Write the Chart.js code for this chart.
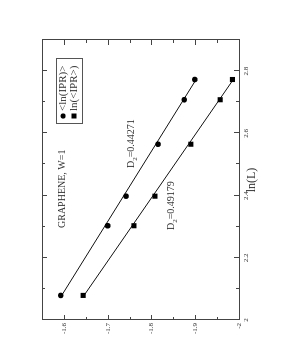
<!DOCTYPE html>
<html>
<head>
<meta charset="utf-8">
<script src="https://cdn.jsdelivr.net/npm/chart.js@4"></script>
<style>
  html, body { margin: 0; padding: 0; background: #fff; }
  #wrap {
    position: absolute; left: 0; top: 0;
    width: 363px; height: 281px;
    transform-origin: 0 0;
    transform: translate(0, 363px) rotate(-90deg);
  }
</style>
</head>
<body>
<div id="wrap"><canvas id="chart" width="363" height="281"></canvas></div>
<script>
// ln(L) values (system sizes)
const lnL = [2.079, 2.303, 2.398, 2.565, 2.708, 2.773];
// <ln(IPR)>  (circles)
const meanLnIPR = [-1.593, -1.700, -1.742, -1.815, -1.875, -1.899];
// ln(<IPR>)  (squares)
const lnMeanIPR = [-1.644, -1.760, -1.808, -1.890, -1.957, -1.985];
// fitted lines, value at first and last ln(L)
const fitX = [2.079, 2.773];
const fitCircle = [-1.595, -1.902];
const fitSquare = [-1.646, -1.987];

const seriesLabels = ['<ln(IPR)>', 'ln(<IPR>)'];
const xTicks = [2, 2.2, 2.4, 2.6, 2.8];
const xMinor = [2.1, 2.3, 2.5, 2.7];
const yTicks = [-2, -1.9, -1.8, -1.7, -1.6];
const yMinor = [-1.95, -1.85, -1.75, -1.65];

const serif = "'Liberation Serif', 'DejaVu Serif', serif";
const ink = '#333';

function pts(xs, ys) { return xs.map((v, i) => ({x: v, y: ys[i]})); }

// frame, inward ticks, legend and text notes
const decor = {
  id: 'decor',
  afterDraw(chart) {
    const {ctx, chartArea: a} = chart;
    const x = chart.scales.x, y = chart.scales.y;
    ctx.save();
    ctx.strokeStyle = '#444';
    ctx.lineWidth = 1;
    ctx.strokeRect(a.left + 0.5, a.top + 0.5, a.right - a.left, a.bottom - a.top);

    ctx.beginPath();
    const tickX = (v, len) => {
      const px = Math.round(x.getPixelForValue(v)) + 0.5;
      ctx.moveTo(px, a.bottom); ctx.lineTo(px, a.bottom - len);
      ctx.moveTo(px, a.top); ctx.lineTo(px, a.top + len);
    };
    const tickY = (v, len) => {
      const py = Math.round(y.getPixelForValue(v)) + 0.5;
      ctx.moveTo(a.left, py); ctx.lineTo(a.left + len, py);
      ctx.moveTo(a.right, py); ctx.lineTo(a.right - len, py);
    };
    xTicks.forEach(v => tickX(v, 5));
    xMinor.forEach(v => tickX(v, 3));
    yTicks.forEach(v => tickY(v, 5));
    yMinor.forEach(v => tickY(v, 3));
    ctx.stroke();

    // legend
    ctx.strokeStyle = '#555';
    ctx.strokeRect(239.5, 56.5, 65, 26);
    ctx.fillStyle = '#000';
    ctx.beginPath(); ctx.arc(247, 63, 2.6, 0, Math.PI * 2); ctx.fill();
    ctx.fillRect(244.5, 71.5, 5, 5);
    ctx.fillStyle = ink;
    ctx.font = '11px ' + serif;
    ctx.textBaseline = 'middle';
    ctx.fillText(chart.data.datasets[0].label, 252, 63.5);
    ctx.fillText(chart.data.datasets[1].label, 252, 74.5);

    // notes
    ctx.textBaseline = 'alphabetic';
    ctx.font = '10px ' + serif;
    ctx.fillText('GRAPHENE, W=1', 135, 65);
    const dLabel = (x0, base, val) => {
      ctx.font = '10px ' + serif;
      ctx.fillText('D', x0, base);
      let w = ctx.measureText('D').width;
      ctx.font = '7px ' + serif;
      ctx.fillText('2', x0 + w, base + 3);
      w += ctx.measureText('2').width;
      ctx.font = '10px ' + serif;
      ctx.fillText('=' + val, x0 + w, base);
    };
    dLabel(195, 134, '0.44271');
    dLabel(133, 174, '0.49179');
    ctx.restore();
  }
};

new Chart(document.getElementById('chart'), {
  type: 'scatter',
  data: {
    datasets: [
      {
        label: seriesLabels[0],
        data: pts(lnL, meanLnIPR),
        pointStyle: 'circle',
        pointRadius: 2.8,
        backgroundColor: '#000',
        borderColor: '#000',
        borderWidth: 0,
      },
      {
        label: seriesLabels[1],
        data: pts(lnL, lnMeanIPR),
        pointStyle: 'rect',
        pointRadius: 3.6,
        backgroundColor: '#000',
        borderColor: '#000',
        borderWidth: 0,
      },
      {
        label: 'fit1',
        data: pts(fitX, fitCircle),
        showLine: true,
        pointRadius: 0,
        borderColor: '#111',
        borderWidth: 1,
      },
      {
        label: 'fit2',
        data: pts(fitX, fitSquare),
        showLine: true,
        pointRadius: 0,
        borderColor: '#111',
        borderWidth: 1,
      },
    ],
  },
  options: {
    responsive: false,
    animation: false,
    devicePixelRatio: 1,
    layout: {padding: {left: 0, right: 40, top: 42, bottom: 0}},
    plugins: {
      legend: {display: false},
      tooltip: {enabled: false},
    },
    scales: {
      x: {
        type: 'linear',
        min: 2,
        max: 2.9,
        grid: {display: false, drawTicks: false},
        border: {display: false},
        afterBuildTicks: s => { s.ticks = xTicks.map(v => ({value: v})); },
        afterFit: s => { s.height = 42; },
        ticks: {
          padding: 3,
          color: ink,
          font: {family: serif, size: 7},
          maxRotation: 0,
          callback: v => String(v),
        },
        title: {
          display: true,
          text: 'ln(L)',
          color: ink,
          font: {family: serif, size: 12},
          padding: {top: 0, bottom: 22},
        },
      },
      y: {
        type: 'linear',
        min: -2,
        max: -1.55,
        grid: {display: false, drawTicks: false},
        border: {display: false},
        afterBuildTicks: s => { s.ticks = yTicks.map(v => ({value: v})); },
        afterFit: s => { s.width = 43; },
        ticks: {
          padding: 3,
          color: ink,
          font: {family: serif, size: 7},
          callback: v => String(v),
        },
      },
    },
  },
  plugins: [decor],
});
</script>
</body>
</html>
